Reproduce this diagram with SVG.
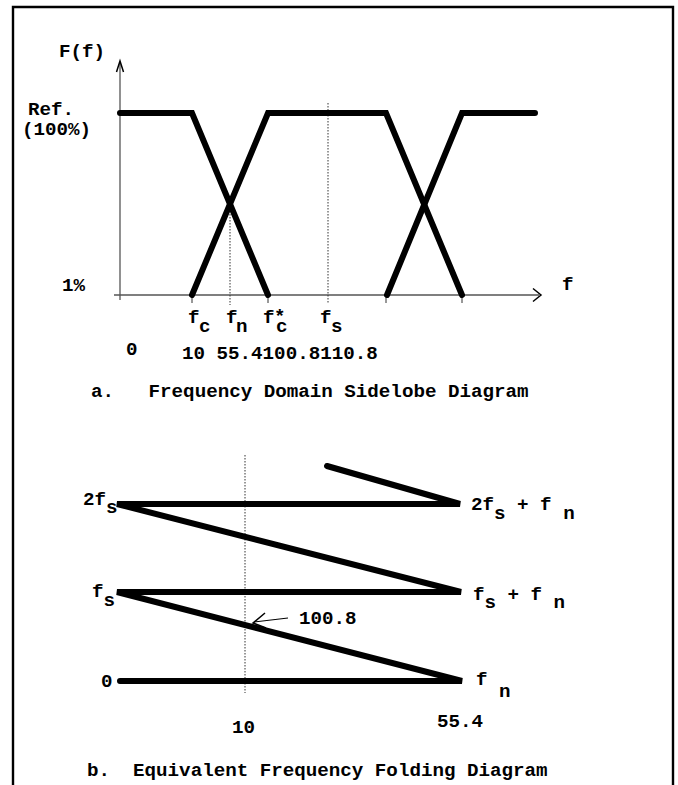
<svg xmlns="http://www.w3.org/2000/svg" width="678" height="785" viewBox="0 0 678 785">
<style>
text{font-family:"Liberation Mono","Courier New",monospace;font-weight:bold;font-size:19.2px;fill:#000}
.thick{fill:none;stroke:#000;stroke-width:6;stroke-linecap:round;stroke-linejoin:miter}
.axis{fill:none;stroke:#555;stroke-width:1.3}
.dot{fill:none;stroke:#333;stroke-width:1;stroke-dasharray:1.5 1.5}
.tick{fill:none;stroke:#333;stroke-width:1}
.head{fill:none;stroke:#000;stroke-width:1.5;stroke-linejoin:miter}
</style>
<rect width="678" height="785" fill="#fff"/>
<g id="frame"><path d="M13,785 V7 H673 V785" fill="none" stroke="#000" stroke-width="2.4"/></g>

<g id="plot-a">
  <g id="axes-a">
    <path class="axis" d="M120,63 V300"/>
    <path class="head" d="M116.5,72 L120,61 L123.5,72"/>
    <path class="axis" d="M114,295 H539"/>
    <path class="head" d="M533,288.5 L541,295 L533,301.5"/>
    <path class="tick" d="M192,295 V303 M268,295 V303 M386,295 V303 M462,295 V303"/>
    <path class="dot" d="M328,103 V303"/>
    <path class="dot" d="M230,205 V305"/>
  </g>
  <g id="curves-a">
    <path class="thick" d="M120,113 L192,113 L268,295"/>
    <path class="thick" d="M192,295 L268,113 L386,113 L462,295"/>
    <path class="thick" d="M387,295 L462,113 L535,113"/>
  </g>
  <g id="labels-a">
    <text x="59" y="57">F(f)</text>
    <text x="28" y="115">Ref.</text>
    <text x="22" y="135">(100%)</text>
    <text x="62" y="291">1%</text>
    <text x="562" y="290">f</text>
    <text x="188" y="323">f<tspan x="199" dy="9">c</tspan></text>
    <text x="226" y="323">f<tspan x="236" dy="9">n</tspan></text>
    <text x="263" y="323">f<tspan x="274" dy="-1">*</tspan><tspan x="276" dy="10">c</tspan></text>
    <text x="320" y="323">f<tspan x="331" dy="9">s</tspan></text>
    <text x="126" y="355">0</text>
    <text x="182" y="359">10 55.4100.8110.8</text>
    <text x="91" y="397" xml:space="preserve">a.   Frequency Domain Sidelobe Diagram</text>
  </g>
</g>

<g id="plot-b">
  <path class="dot" d="M245,455 V693"/>
  <g id="connectors">
    <path class="thick" stroke-width="6.5" d="M327,466 L460,504 L117,504 L461,592 L117,592 L462,681 L120,681"/>
    <path fill="none" stroke="#000" stroke-width="1.2" d="M288,618 L254,622"/>
    <path class="head" d="M265,613 L253,623 L266,628"/>
  </g>
  <g id="labels-b">
    <text x="83" y="505">2f<tspan dy="8">s</tspan></text>
    <text x="92" y="597">f<tspan dy="9">s</tspan></text>
    <text x="101" y="687">0</text>
    <text x="471" y="510" xml:space="preserve">2f<tspan dy="9">s</tspan><tspan dy="-9"> + f </tspan><tspan dy="9">n</tspan></text>
    <text x="473" y="600" xml:space="preserve">f<tspan dy="8">s</tspan><tspan dy="-8"> + f </tspan><tspan dy="8">n</tspan></text>
    <text x="476" y="685" xml:space="preserve">f<tspan dy="12"> n</tspan></text>
    <text x="299" y="624">100.8</text>
    <text x="232" y="733">10</text>
    <text x="437" y="727">55.4</text>
    <text x="87" y="776" xml:space="preserve">b.  Equivalent Frequency Folding Diagram</text>
  </g>
</g>
</svg>
